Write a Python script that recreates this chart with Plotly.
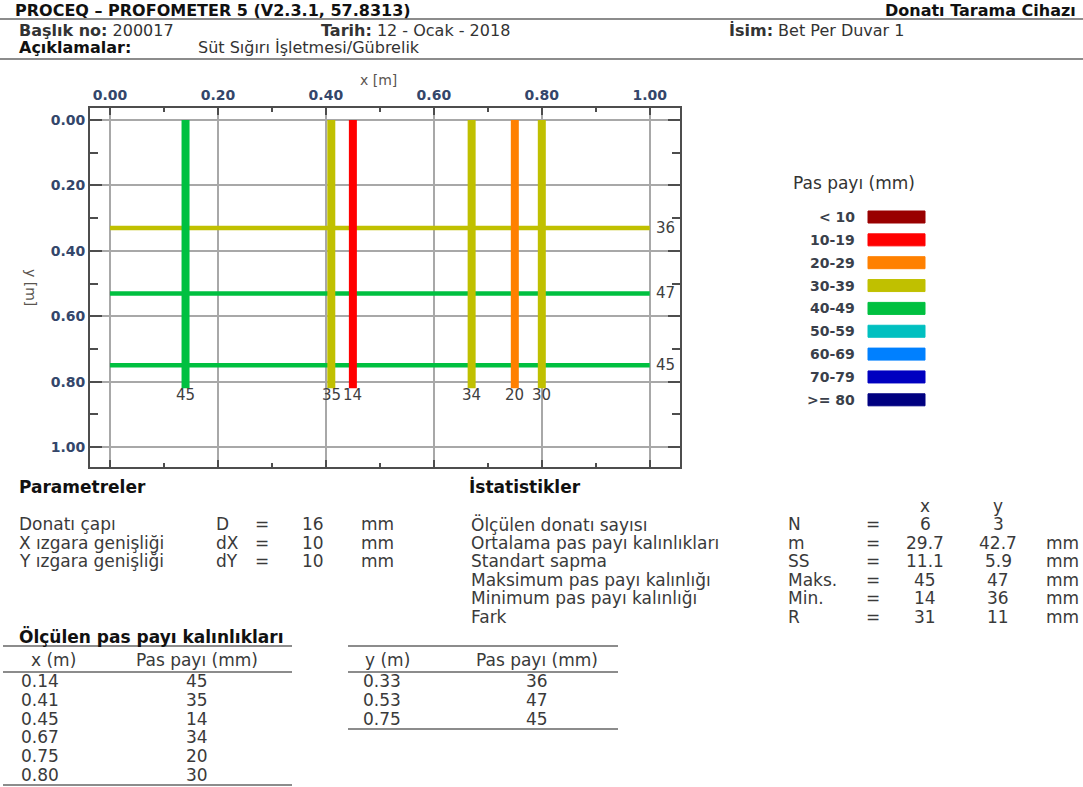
import plotly.graph_objects as go

W, H = 1083, 787

# ---------------- data ----------------
x_pos = [0.14, 0.41, 0.45, 0.67, 0.75, 0.80]
x_cover = [45, 35, 14, 34, 20, 30]
y_pos = [0.33, 0.53, 0.75]
y_cover = [36, 47, 45]

legend_labels = ["< 10", "10-19", "20-29", "30-39", "40-49", "50-59", "60-69", "70-79", ">= 80"]
legend_colors = ["#990000", "#ff0000", "#ff8000", "#c0c000", "#00c040",
                 "#00c0c0", "#0080ff", "#0000c0", "#000080"]

tick_vals = [0.0, 0.2, 0.4, 0.6, 0.8, 1.0]
tick_text = ["0.00", "0.20", "0.40", "0.60", "0.80", "1.00"]

header_title = "PROCEQ – PROFOMETER 5 (V2.3.1, 57.8313)"
header_device = "Donatı Tarama Cihazı"
header_no = "200017"
header_date = "12 - Ocak - 2018"
header_name = "Bet Per Duvar 1"
header_desc = "Süt Sığırı İşletmesi/Gübrelik"

param_names = ["Donatı çapı", "X ızgara genişliği", "Y ızgara genişliği"]
param_symbols = ["D", "dX", "dY"]
param_values = ["16", "10", "10"]
param_units = ["mm", "mm", "mm"]

stat_names = ["Ölçülen donatı sayısı", "Ortalama pas payı kalınlıkları", "Standart sapma",
              "Maksimum pas payı kalınlığı", "Minimum pas payı kalınlığı", "Fark"]
stat_symbols = ["N", "m", "SS", "Maks.", "Min.", "R"]
stat_x = ["6", "29.7", "11.1", "45", "14", "31"]
stat_y = ["3", "42.7", "5.9", "47", "36", "11"]
stat_units = ["", "mm", "mm", "mm", "mm", "mm"]

# ---------------- helpers ----------------
BODY = "DejaVu Sans"
TXT = "#3a3a3a"
FS = 17


def px(x):
    return x / W


def py(y):
    return 1 - y / H


def bin_color(v):
    return legend_colors[min(int(v // 10), len(legend_colors) - 1)]


annotations = []
shapes = []


def text(x, y, s, size=FS, bold=False, anchor="left", color=TXT, family=BODY):
    annotations.append(dict(
        x=px(x), y=py(y), xref="paper", yref="paper", text=(f"<b>{s}</b>" if bold else s),
        showarrow=False, xanchor=anchor, yanchor="middle", borderpad=0,
        font=dict(family=family, size=size, color=color)))


def hline(x0, x1, y, color="#8c8c8c", width=2):
    shapes.append(dict(type="line", xref="paper", yref="paper",
                       x0=px(x0), x1=px(x1), y0=py(y), y1=py(y),
                       line=dict(color=color, width=width)))


fig = go.Figure()

# ---------------- rebar map ----------------
BAR_Y_END = 0.82
for yp, c in zip(y_pos, y_cover):
    fig.add_trace(go.Scatter(x=[0.0, 1.0], y=[yp, yp], mode="lines",
                             line=dict(color=bin_color(c), width=4.5),
                             hoverinfo="skip", showlegend=False))
for xp, c in zip(x_pos, x_cover):
    fig.add_trace(go.Scatter(x=[xp, xp], y=[0.0, BAR_Y_END], mode="lines",
                             line=dict(color=bin_color(c), width=8),
                             hoverinfo="skip", showlegend=False))

for xp, c in zip(x_pos, x_cover):
    annotations.append(dict(x=xp, y=BAR_Y_END + 0.022, xref="x", yref="y", text=str(c),
                            showarrow=False, xanchor="center", yanchor="middle",
                            font=dict(family=BODY, size=15, color="#404040")))
for yp, c in zip(y_pos, y_cover):
    annotations.append(dict(x=1.008, y=yp, xref="x", yref="y", text=str(c),
                            showarrow=False, xanchor="left", yanchor="middle",
                            font=dict(family=BODY, size=15, color="#404040")))

axis_common = dict(
    tickmode="array", tickvals=tick_vals, ticktext=tick_text,
    showgrid=True, gridcolor="#a8a8a8", gridwidth=2, zeroline=False,
    showline=True, linecolor="#4d4d4d", linewidth=2, mirror="ticks",
    ticks="inside", tickcolor="#4d4d4d", tickwidth=2,
    tickfont=dict(family=BODY, size=14, color="#34466a", weight="bold"),
)
fig.update_xaxes(**axis_common, side="top", range=[-0.037, 1.056],
                 domain=[px(90), px(680)], ticklen=7,
                 minor=dict(tickvals=[0.1, 0.3, 0.5, 0.7, 0.9], ticks="inside", ticklen=4,
                            tickcolor="#4d4d4d", tickwidth=2, showgrid=False))
fig.update_yaxes(**axis_common, range=[1.061, -0.037],
                 domain=[py(467), py(108)], ticklen=12,
                 minor=dict(tickvals=[0.1, 0.3, 0.5, 0.7, 0.9], ticks="inside", ticklen=8,
                            tickcolor="#4d4d4d", tickwidth=2, showgrid=False))

text(378, 80, "x [m]", size=14, anchor="center", color="#5a5550")
annotations.append(dict(x=px(31), y=py(287), xref="paper", yref="paper", text="y [m]",
                        showarrow=False, textangle=90, xanchor="center", yanchor="middle",
                        font=dict(family=BODY, size=14, color="#5a5550")))

# ---------------- legend ----------------
text(854, 183, "Pas payı (mm)", size=FS, anchor="center", color="#333333")
for i, (lab, col) in enumerate(zip(legend_labels, legend_colors)):
    yc = 217 + i * 22.85
    text(856, yc, lab, size=14, bold=True, anchor="right", color="#3a3f4a")
    shapes.append(dict(type="rect", xref="paper", yref="paper",
                       x0=px(868), x1=px(925), y0=py(yc - 6), y1=py(yc + 6),
                       fillcolor=col, line=dict(color=col, width=1)))

# ---------------- header ----------------
text(14, 10, header_title, size=16, bold=True, color="#111111")
text(1077, 10, header_device, size=16, bold=True, anchor="right", color="#111111")
hline(0, W, 19)
text(18, 30, f"<b>Başlık no:</b> {header_no}", size=16, color="#333333")
text(320, 30, f"<b>Tarih:</b> {header_date}", size=16, color="#333333")
text(728, 30, f"<b>İsim:</b> {header_name}", size=16, color="#333333")
text(18, 47, "Açıklamalar:", size=16, bold=True, color="#111111")
text(197, 47, header_desc, size=16, color="#333333")
hline(0, W, 59)

# ---------------- parameters ----------------
text(18, 487, "Parametreler", bold=True, color="#111111")
for i in range(len(param_names)):
    yy = 524 + i * 18.5
    text(18, yy, param_names[i])
    text(215, yy, param_symbols[i])
    text(262, yy, "=", anchor="center")
    text(313, yy, param_values[i], anchor="center")
    text(360, yy, param_units[i])

# ---------------- statistics ----------------
text(468, 487, "İstatistikler", bold=True, color="#111111")
text(925, 506, "x", anchor="center")
text(998, 506, "y", anchor="center")
for i in range(len(stat_names)):
    yy = 524 + i * 18.6
    text(470, yy, stat_names[i])
    text(787, yy, stat_symbols[i])
    text(873, yy, "=", anchor="center")
    text(925, yy, stat_x[i], anchor="center")
    text(998, yy, stat_y[i], anchor="center")
    if stat_units[i]:
        text(1045, yy, stat_units[i])

# ---------------- measured tables ----------------
text(18, 636, "Ölçülen pas payı kalınlıkları", bold=True, color="#111111")
hline(3, 292, 646)
text(53, 660, "x (m)", anchor="center")
text(197, 660, "Pas payı (mm)", anchor="center")
hline(3, 292, 672)
for i, (xp, c) in enumerate(zip(x_pos, x_cover)):
    yy = 681 + i * 18.8
    text(40, yy, f"{xp:.2f}", anchor="center")
    text(197, yy, str(c), anchor="center")
hline(3, 292, 785)

hline(348, 618, 646)
text(387, 660, "y (m)", anchor="center")
text(537, 660, "Pas payı (mm)", anchor="center")
hline(348, 618, 672)
for i, (yp, c) in enumerate(zip(y_pos, y_cover)):
    yy = 681 + i * 18.8
    text(382, yy, f"{yp:.2f}", anchor="center")
    text(537, yy, str(c), anchor="center")
hline(348, 618, 729)

fig.update_layout(
    width=W, height=H, margin=dict(l=0, r=0, t=0, b=0),
    paper_bgcolor="white", plot_bgcolor="white",
    showlegend=False, annotations=annotations, shapes=shapes,
)

fig.write_html("out.html", config={"displayModeBar": False},
               post_script="document.body.style.margin='0';document.body.style.padding='0';")
